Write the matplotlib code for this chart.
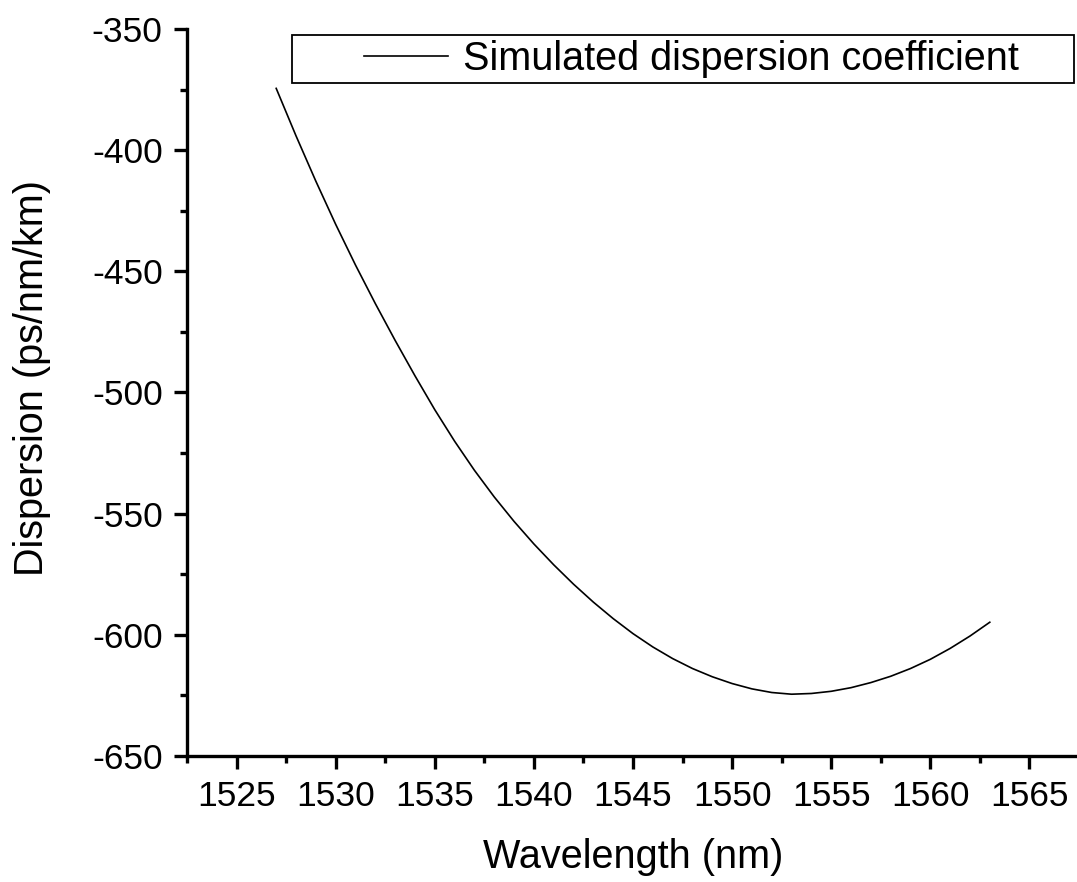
import matplotlib
matplotlib.use("Agg")
import matplotlib.pyplot as plt
from matplotlib.ticker import MultipleLocator
from matplotlib.legend_handler import HandlerLine2D

plt.rcParams['font.family'] = ['Liberation Sans', 'DejaVu Sans']
plt.rcParams['axes.unicode_minus'] = False

# simulated dispersion curve (nm, ps/nm/km)
wavelength = [1527, 1528, 1529, 1530, 1531, 1532, 1533, 1534, 1535, 1536,
              1537, 1538, 1539, 1540, 1541, 1542, 1543, 1544, 1545, 1546,
              1547, 1548, 1549, 1550, 1551, 1552, 1553, 1554, 1555, 1556,
              1557, 1558, 1559, 1560, 1561, 1562, 1563]
dispersion = [-374.5, -394.1, -412.8, -430.6, -447.4, -463.3, -478.5, -493.1,
              -507.1, -520.1, -532.1, -543.1, -553.2, -562.5, -571.1, -579.1,
              -586.5, -593.3, -599.5, -605.0, -609.8, -613.9, -617.3, -620.1,
              -622.3, -623.8, -624.5, -624.2, -623.3, -621.8, -619.7, -617.1,
              -613.9, -610.1, -605.6, -600.5, -594.8]

W, H = 1077, 882
fig = plt.figure(figsize=(W / 100, H / 100), dpi=100)
ax = fig.add_axes([187 / W, 1 - 756 / H, 892 / W, 727 / H])

line, = ax.plot(wavelength, dispersion, color='black', lw=1.2,
                label='Simulated dispersion coefficient')

ax.set_xlim(1522.5, 1567.5)
ax.set_ylim(-650, -350)
ax.xaxis.set_major_locator(MultipleLocator(5))
ax.xaxis.set_minor_locator(MultipleLocator(2.5))
ax.yaxis.set_major_locator(MultipleLocator(50))
ax.yaxis.set_minor_locator(MultipleLocator(25))

for s in ['top', 'right']:
    ax.spines[s].set_visible(False)
for s in ['left', 'bottom']:
    ax.spines[s].set_linewidth(2.4)

ax.tick_params(which='major', direction='out', length=9.5, width=2.4,
               labelsize=25.5, pad=8)
ax.tick_params(which='minor', direction='out', length=5, width=2.4)

ax.set_xlabel('Wavelength (nm)', fontsize=28.5)
ax.set_ylabel('Dispersion (ps/nm/km)', fontsize=28.5)
ax.xaxis.set_label_coords(0.5, -0.113)
ax.yaxis.set_label_coords(-0.1525, 0.5206)

# legend box spans most of the top, handle pushed in with xpad
leg = ax.legend(loc='upper left', mode='expand',
                bbox_to_anchor=(292 / W, 1 - 82 / H, 782 / W, 47 / H),
                bbox_transform=fig.transFigure, borderaxespad=0,
                fontsize=28.5, fancybox=False, framealpha=1,
                edgecolor='black', borderpad=0.13,
                handlelength=3.81, handletextpad=0.38,
                handler_map={line: HandlerLine2D(xpad=1.69)})
leg.get_frame().set_linewidth(1.3)

fig.savefig('out.png', dpi=100)
